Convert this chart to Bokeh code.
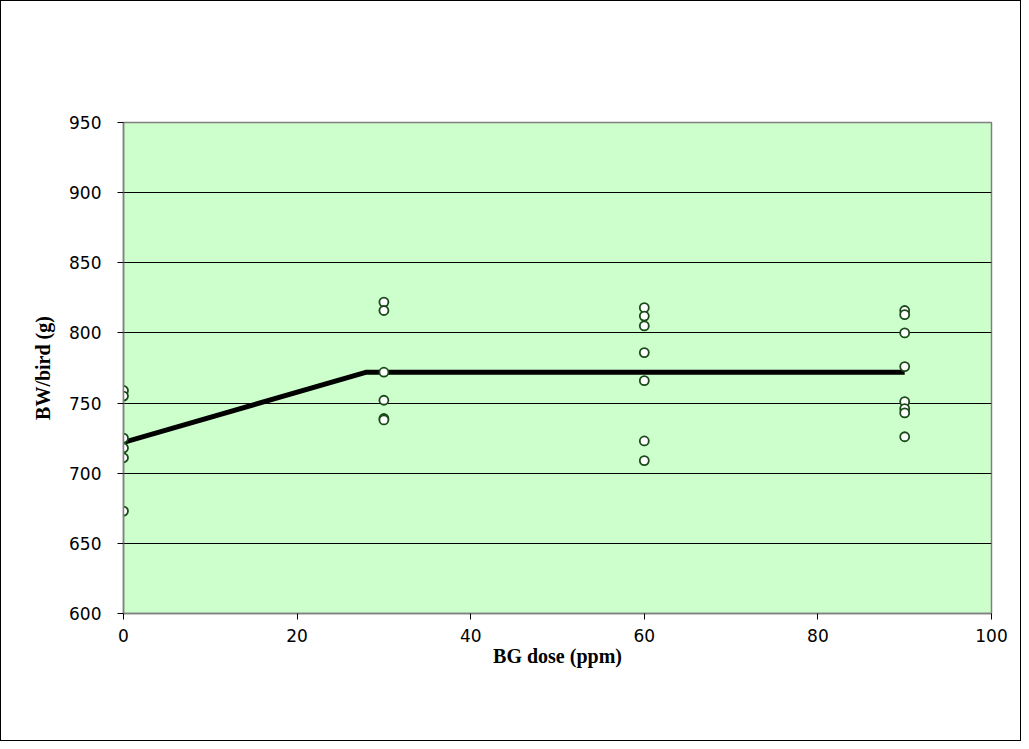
from bokeh.plotting import figure
from bokeh.embed import file_html
from bokeh.resources import INLINE
from bokeh.models import Range1d, FixedTicker

# Data
dose_0 = [0, 0, 0, 0, 0, 0]
bw_0 = [759, 755, 725, 718, 711, 673]
dose_30 = [30, 30, 30, 30, 30, 30]
bw_30 = [822, 816, 772, 752, 739, 738]
dose_60 = [60, 60, 60, 60, 60, 60, 60]
bw_60 = [818, 812, 805, 786, 766, 723, 709]
dose_90 = [90, 90, 90, 90, 90, 90, 90, 90]
bw_90 = [816, 813, 800, 776, 751, 746, 743, 726]

fit_dose = [0, 28, 90]
fit_bw = [722, 772, 772]

x_ticks = [0, 20, 40, 60, 80, 100]
y_ticks = [600, 650, 700, 750, 800, 850, 900, 950]

doses = dose_0 + dose_30 + dose_60 + dose_90
bws = bw_0 + bw_30 + bw_60 + bw_90

p = figure(width=1021, height=741, output_backend="svg", toolbar_location=None,
           x_range=Range1d(0, 100), y_range=Range1d(600, 950),
           min_border_left=122, min_border_right=31, min_border_top=121,
           min_border_bottom=129)

p.background_fill_color = "#CCFFCC"
p.border_fill_color = "white"
p.outline_line_color = "#808080"
p.outline_line_width = 1.5

p.xgrid.grid_line_color = None
p.ygrid.grid_line_color = "black"
p.ygrid.grid_line_width = 1
p.ygrid.ticker = FixedTicker(ticks=y_ticks)

p.xaxis.ticker = FixedTicker(ticks=x_ticks)
p.yaxis.ticker = FixedTicker(ticks=y_ticks)

for ax in (p.xaxis[0], p.yaxis[0]):
    ax.axis_line_color = "#808080"
    ax.axis_line_width = 1.5
    ax.major_tick_line_color = "black"
    ax.major_tick_in = 0
    ax.major_tick_out = 6
    ax.minor_tick_line_color = None
    ax.major_label_text_font = "DejaVu Sans"
    ax.major_label_text_font_size = "17px"
    ax.major_label_text_color = "black"
    ax.axis_label_text_font = "Liberation Serif"
    ax.axis_label_text_font_style = "bold"
    ax.axis_label_text_font_size = "20px"
    ax.axis_label_text_color = "black"

p.xaxis.axis_label = "BG dose (ppm)"
p.yaxis.axis_label = "BW/bird (g)"
p.xaxis.major_label_standoff = 9
p.xaxis.axis_label_standoff = 0
p.yaxis.major_label_standoff = 16
p.yaxis.axis_label_standoff = 12

p.line(fit_dose, fit_bw, line_color="black", line_width=5)
p.scatter(doses, bws, size=9, marker="circle", fill_color="white",
          line_color="#1a4a1a", line_width=1.8)

p.styles = {"border": "1px solid black"}

open("out.html", "w").write(file_html(p, INLINE))
